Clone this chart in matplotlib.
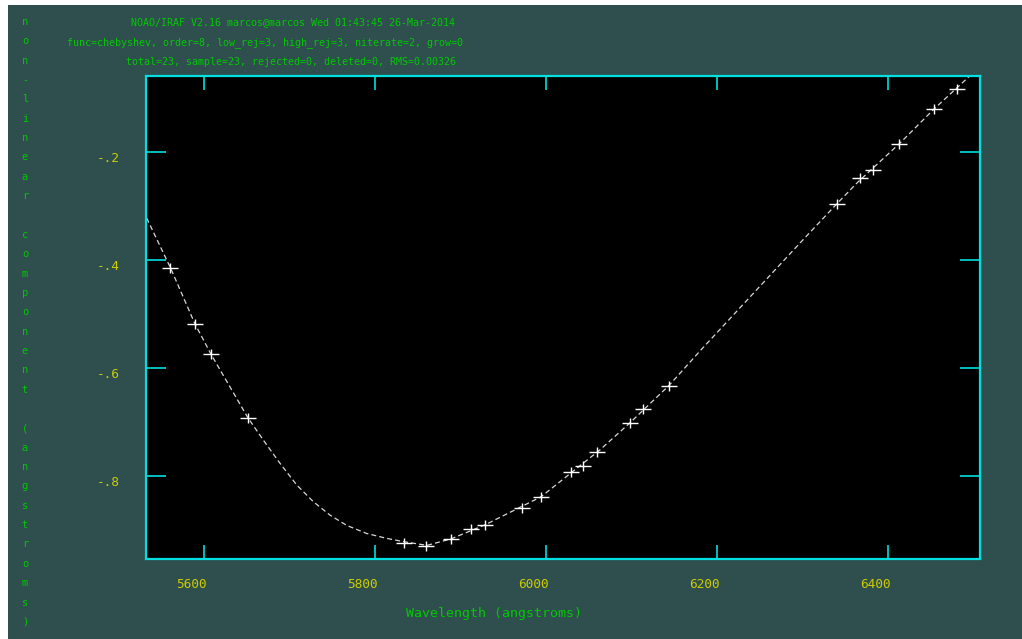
import matplotlib
matplotlib.use("Agg")
import matplotlib.pyplot as plt
from matplotlib.path import Path
from matplotlib.patches import Rectangle
from matplotlib.transforms import ScaledTranslation

# fitted lines: wavelength (A) vs non-linear component (A)
wave = [5560.8, 5589.5, 5607.8, 5651.8, 5833.9, 5860.2, 5888.9, 5911.7,
        5928.7, 5972.5, 5994.2, 6029.2, 6043.3, 6059.6, 6097.9, 6113.0,
        6143.8, 6340.7, 6367.3, 6382.1, 6413.2, 6453.8, 6481.1]
resid = [-0.416, -0.519, -0.575, -0.694, -0.925, -0.931, -0.917, -0.899,
         -0.891, -0.860, -0.839, -0.793, -0.782, -0.756, -0.702, -0.677,
         -0.633, -0.297, -0.249, -0.234, -0.186, -0.121, -0.084]

# chebyshev fit curve, sampled along the plot
fit_wave = [5533.0, 5560.8, 5589.5, 5608.2, 5651.5, 5669.4, 5688.9, 5708.4,
            5727.8, 5747.4, 5766.9, 5790.3, 5813.7, 5833.1, 5860.8, 5888.9,
            5928.7, 5994.2, 6063.2, 6098.2, 6143.8, 6180.1, 6238.6, 6297.1,
            6340.4, 6364.9, 6414.0, 6453.8, 6494.7, 6505.0]
fit_resid = [-0.323, -0.415, -0.519, -0.575, -0.693, -0.734, -0.777, -0.817,
             -0.848, -0.873, -0.892, -0.907, -0.916, -0.922, -0.929, -0.917,
             -0.891, -0.839, -0.752, -0.702, -0.633, -0.569, -0.469, -0.369,
             -0.296, -0.256, -0.184, -0.121, -0.061, -0.046]

xticks = [5600, 5800, 6000, 6200, 6400]
yticks = [-0.2, -0.4, -0.6, -0.8]
ytick_labels = ["-.2", "-.4", "-.6", "-.8"]

header = ["NOAO/IRAF V2.16 marcos@marcos Wed 01:43:45 26-Mar-2014",
          "func=chebyshev, order=8, low_rej=3, high_rej=3, niterate=2, grow=0",
          "total=23, sample=23, rejected=0, deleted=0, RMS=0.00326"]
xlabel = "Wavelength (angstroms)"
ylabel = "non-linear component (angstroms)"

BG = "#2f4f4f"
FRAME = "#00e0e0"
GREEN = "#00c800"
YELLOW = "#cccc00"
MONO = "DejaVu Sans Mono"

W, H = 1022, 639
fig = plt.figure(figsize=(W / 100, H / 100), dpi=100)
fig.patch.set_facecolor("white")
fig.patches.append(Rectangle((8 / W, 0), 1, (H - 5) / H, transform=fig.transFigure,
                             facecolor=BG, edgecolor="none", zorder=-10))

ax = fig.add_axes([146 / W, 1 - 558.5 / H, (980.3 - 146) / W, (558.5 - 75.7) / H])
ax.set_facecolor("black")

# wider-than-tall plus marker
plus = Path([(-8, 0), (8, 0), (0, -5.5), (0, 5.5)],
            [Path.MOVETO, Path.LINETO, Path.MOVETO, Path.LINETO])

ax.plot(fit_wave, fit_resid, color="#d8d8d8", lw=0.9, dashes=(4, 2.5))
ax.plot(wave, resid, ls="none", marker=plus, ms=11.5, mew=1.0, mec="white")

ax.set_xlim(5532.2, 6507.9)
ax.set_ylim(-0.9533, -0.0593)

for s in ax.spines.values():
    s.set_color(FRAME)
    s.set_linewidth(1.6)

ax.set_xticks(xticks)
ax.set_yticks(yticks)
ax.set_yticklabels(ytick_labels)
ax.tick_params(axis="both", which="both", direction="in", color=FRAME, width=1.2,
               top=True, right=True, labelcolor=YELLOW, labelsize=9.2)
ax.tick_params(axis="x", length=10, pad=14)
ax.tick_params(axis="y", length=14.5, pad=19)
for lbl in ax.get_xticklabels():
    lbl.set_fontfamily(MONO)
    lbl.set_horizontalalignment("right")
    lbl.set_transform(lbl.get_transform() + ScaledTranslation(3 / 100, 0, fig.dpi_scale_trans))
for lbl in ax.get_yticklabels():
    lbl.set_fontfamily(MONO)
    lbl.set_transform(lbl.get_transform() + ScaledTranslation(0, -5 / 100, fig.dpi_scale_trans))

# header lines, left-placed as IRAF writes them
for (x0, y0), line in zip([(131, 22), (67, 43), (126, 62)], header):
    fig.text(x0 / W, 1 - y0 / H, line, color=GREEN, fontsize=7.2, family=MONO,
             ha="left", va="center")

fig.text(405.7 / W, 1 - 613 / H, xlabel, color=GREEN, fontsize=9.5, family=MONO,
         ha="left", va="center")

# y label written as a column of characters
for i, ch in enumerate(ylabel):
    if ch == " ":
        continue
    fig.text(25 / W, 1 - (22 + i * 19.35) / H, ch, color=GREEN, fontsize=7.5,
             family=MONO, ha="center", va="center")

fig.savefig("out.png", dpi=100)
